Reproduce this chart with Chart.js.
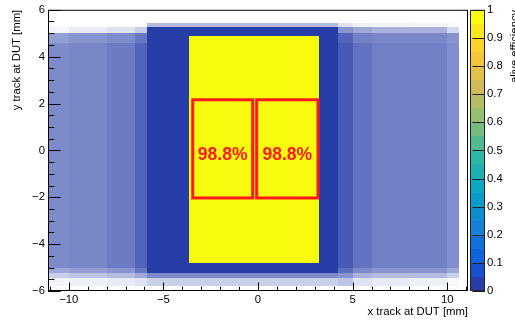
<!DOCTYPE html>
<html>
<head>
<meta charset="utf-8">
<script src="https://cdn.jsdelivr.net/npm/chart.js@4.4.1/dist/chart.umd.min.js"></script>
<style>
    html, body { margin: 0; padding: 0; background: #fff; overflow: hidden; }
    #wrap { width: 515px; height: 320px; }
</style>
</head>
<body>
<div id="wrap"><canvas id="effMap" width="515" height="320"></canvas></div>
<script>
// axis ticks
const xTicks = [-10, -5, 0, 5, 10];
const yTicks = [-6, -4, -2, 0, 2, 4, 6];
const zTicks = [0, 0.1, 0.2, 0.3, 0.4, 0.5, 0.6, 0.7, 0.8, 0.9, 1];

// tracks with zero efficiency: fraction of bins hit per cell
const hitXEdges = [-11.1, -10, -8, -6.5, -5.85, 4.25, 5, 6, 8, 10, 10.6];
const hitYEdges = [-5.8, -5.45, -5.25, -5.0, 4.6, 5.0, 5.28, 5.45];
const hitDensity = [
    [0.05, 0.08, 0.10, 0.15, 0.25, 0.30, 0.15, 0.10, 0.08, 0.04],
    [0.25, 0.30, 0.35, 0.45, 0.60, 0.55, 0.40, 0.35, 0.35, 0.25],
    [0.45, 0.50, 0.55, 0.70, 1.00, 0.75, 0.60, 0.55, 0.55, 0.45],
    [0.60, 0.62, 0.68, 0.80, 1.00, 0.85, 0.72, 0.66, 0.66, 0.58],
    [0.50, 0.55, 0.60, 0.70, 1.00, 0.80, 0.65, 0.62, 0.62, 0.55],
    [0.05, 0.10, 0.15, 0.25, 1.00, 0.55, 0.45, 0.40, 0.40, 0.20],
    [0.00, 0.00, 0.00, 0.00, 0.35, 0.15, 0.08, 0.06, 0.05, 0.02]
];

// efficient area (sensor)
const effX0 = [-3.65];
const effX1 = [3.2];
const effY0 = [-4.8];
const effY1 = [4.86];
const effValue = [0.99];

// regions of interest
const boxX0 = [-3.45, -0.07];
const boxX1 = [-0.28, 3.17];
const boxY0 = [-2.03, -2.03];
const boxY1 = [2.16, 2.16];
const boxLabelY = [-0.2, -0.2];
const boxLabels = ['98.8%', '98.8%'];

const FONT = '"Liberation Sans", Arial, Helvetica, sans-serif';
const RED = '#ff1a1a';

// ROOT kBird palette
const birdStops = [0.0, 0.125, 0.25, 0.375, 0.5, 0.625, 0.75, 0.875, 1.0];
const birdR = [0.2082, 0.0592, 0.0780, 0.0232, 0.1802, 0.5301, 0.8186, 0.9956, 0.9764];
const birdG = [0.1664, 0.3599, 0.5041, 0.6419, 0.7178, 0.7492, 0.7328, 0.7862, 0.9832];
const birdB = [0.5293, 0.8684, 0.8385, 0.7914, 0.6425, 0.4662, 0.3499, 0.1968, 0.0539];
const nBands = 20;

function birdColor(v) {
    let k = 0;
    while (k < birdStops.length - 2 && v > birdStops[k + 1]) k++;
    const t = (v - birdStops[k]) / (birdStops[k + 1] - birdStops[k]);
    const c = a => Math.round(255 * (a[k] + t * (a[k + 1] - a[k])));
    return [c(birdR), c(birdG), c(birdB)];
}

function bandColor(i, alpha = 1) {
    const idx = Math.floor((i + 0.99) * 255 / nBands);
    const [r, g, b] = birdColor(idx / 254);
    return `rgba(${r},${g},${b},${alpha})`;
}

function effBand(e) {
    return Math.min(nBands - 1, Math.floor(e * nBands));
}

function fillCell(ctx, x, y, x0, x1, y0, y1) {
    const px0 = Math.round(x.getPixelForValue(x0));
    const px1 = Math.round(x.getPixelForValue(x1));
    const py0 = Math.round(y.getPixelForValue(y1));
    const py1 = Math.round(y.getPixelForValue(y0));
    ctx.fillRect(px0, py0, px1 - px0, py1 - py0);
}

const heatPlugin = {
    id: 'heat',
    beforeDatasetsDraw(chart) {
        const { ctx, chartArea: a, scales: { x, y } } = chart;
        ctx.save();
        ctx.beginPath();
        ctx.rect(a.left, a.top, a.right - a.left, a.bottom - a.top);
        ctx.clip();

        hitDensity.forEach((row, r) => {
            row.forEach((d, c) => {
                if (!d) return;
                ctx.fillStyle = bandColor(0, d);
                fillCell(ctx, x, y, hitXEdges[c], hitXEdges[c + 1], hitYEdges[r], hitYEdges[r + 1]);
            });
        });

        effValue.forEach((e, i) => {
            ctx.fillStyle = bandColor(effBand(e));
            fillCell(ctx, x, y, effX0[i], effX1[i], effY0[i], effY1[i]);
        });
        ctx.restore();
    },
    afterDraw(chart) {
        const { ctx, chartArea: a, scales: { x, y, y2 } } = chart;
        ctx.save();

        // regions of interest
        ctx.strokeStyle = RED;
        ctx.lineWidth = 3;
        boxLabels.forEach((lab, i) => {
            const px0 = x.getPixelForValue(boxX0[i]);
            const px1 = x.getPixelForValue(boxX1[i]);
            const py0 = y.getPixelForValue(boxY1[i]);
            const py1 = y.getPixelForValue(boxY0[i]);
            ctx.strokeRect(px0, py0, px1 - px0, py1 - py0);

            ctx.save();
            ctx.translate((px0 + px1) / 2, y.getPixelForValue(boxLabelY[i]));
            ctx.scale(0.95, 1);
            ctx.fillStyle = RED;
            ctx.font = 'bold 18.5px ' + FONT;
            ctx.textAlign = 'center';
            ctx.textBaseline = 'middle';
            ctx.fillText(lab, 0, 0);
            ctx.restore();
        });

        // frame
        ctx.strokeStyle = '#000';
        ctx.lineWidth = 1;
        ctx.strokeRect(a.left + 0.5, a.top + 0.5, a.right - a.left - 1, a.bottom - a.top - 1);

        // ROOT style ticks inside the frame
        ctx.beginPath();
        for (let v = -11; v <= 11; v += 1) {
            const px = Math.round(x.getPixelForValue(v)) + 0.5;
            const len = v % 5 === 0 ? 8.5 : 4.3;
            ctx.moveTo(px, a.bottom);
            ctx.lineTo(px, a.bottom - len);
        }
        for (let v = -6; v <= 6; v += 0.5) {
            const py = Math.round(y.getPixelForValue(v)) + 0.5;
            const len = v % 2 === 0 ? 12.6 : 6.3;
            ctx.moveTo(a.left, py);
            ctx.lineTo(a.left + len, py);
        }
        ctx.stroke();

        // palette
        const bx0 = a.right + 2;
        const bx1 = a.right + 17;
        for (let i = 0; i < nBands; i++) {
            const pyTop = Math.round(y2.getPixelForValue((i + 1) / nBands));
            const pyBot = Math.round(y2.getPixelForValue(i / nBands));
            ctx.fillStyle = bandColor(i);
            ctx.fillRect(bx0, pyTop, bx1 - bx0, pyBot - pyTop);
        }
        ctx.strokeStyle = '#222';
        ctx.strokeRect(bx0 + 0.5, a.top + 0.5, bx1 - bx0 - 1, a.bottom - a.top - 1);
        ctx.beginPath();
        zTicks.forEach(v => {
            const py = Math.round(y2.getPixelForValue(v)) + 0.5;
            ctx.moveTo(bx1, py);
            ctx.lineTo(bx1 - 12.6, py);
        });
        ctx.stroke();

        // palette axis title, rotated, aligned to the top (runs off the right edge)
        ctx.fillStyle = '#000';
        ctx.font = '11.3px ' + FONT;
        ctx.translate(518, a.top);
        ctx.rotate(-Math.PI / 2);
        ctx.textAlign = 'right';
        ctx.textBaseline = 'alphabetic';
        ctx.fillText('alive efficiency', 0, 0);
        ctx.restore();
    }
};

const fmt = v => (v < 0 ? '\u2212' + String(-v) : String(v));

const ctx = document.getElementById('effMap').getContext('2d');
new Chart(ctx, {
    type: 'scatter',
    data: { datasets: [{ data: [], pointRadius: 0 }] },
    options: {
        responsive: false,
        animation: false,
        devicePixelRatio: 1,
        layout: { padding: { top: 7, left: 0, right: 0, bottom: 0 } },
        plugins: { legend: { display: false }, tooltip: { enabled: false } },
        scales: {
            x: {
                type: 'linear',
                position: 'bottom',
                min: -11.1,
                max: 11.1,
                afterBuildTicks: s => { s.ticks = xTicks.map(v => ({ value: v })); },
                afterFit: s => { s.height = 29; },
                grid: { display: false, drawTicks: false },
                border: { display: false },
                ticks: { padding: 2, color: '#000', font: { family: FONT, size: 11.3 }, maxRotation: 0, autoSkip: false, callback: fmt },
                title: { display: true, text: 'x track at DUT [mm]', align: 'end', color: '#000', font: { family: FONT, size: 11.3 }, padding: { top: 0, bottom: 1 } }
            },
            y: {
                type: 'linear',
                position: 'left',
                min: -6,
                max: 6,
                afterBuildTicks: s => { s.ticks = yTicks.map(v => ({ value: v })); },
                afterFit: s => { s.width = 48; },
                grid: { display: false, drawTicks: false },
                border: { display: false },
                ticks: { padding: 3, color: '#000', font: { family: FONT, size: 11.3 }, autoSkip: false, callback: fmt },
                title: { display: true, text: 'y track at DUT [mm]', align: 'end', color: '#000', font: { family: FONT, size: 11.3 }, padding: { top: 10, bottom: 0 } }
            },
            y2: {
                type: 'linear',
                axis: 'y',
                position: 'right',
                min: 0,
                max: 1,
                afterBuildTicks: s => { s.ticks = zTicks.map(v => ({ value: v })); },
                afterFit: s => { s.width = 47; },
                grid: { display: false, drawTicks: true, tickLength: 17 },
                border: { display: false },
                ticks: { padding: 2, color: '#000', font: { family: FONT, size: 11.3 }, autoSkip: false, callback: v => String(Math.round(v * 10) / 10) }
            }
        }
    },
    plugins: [heatPlugin]
});
</script>
</body>
</html>
